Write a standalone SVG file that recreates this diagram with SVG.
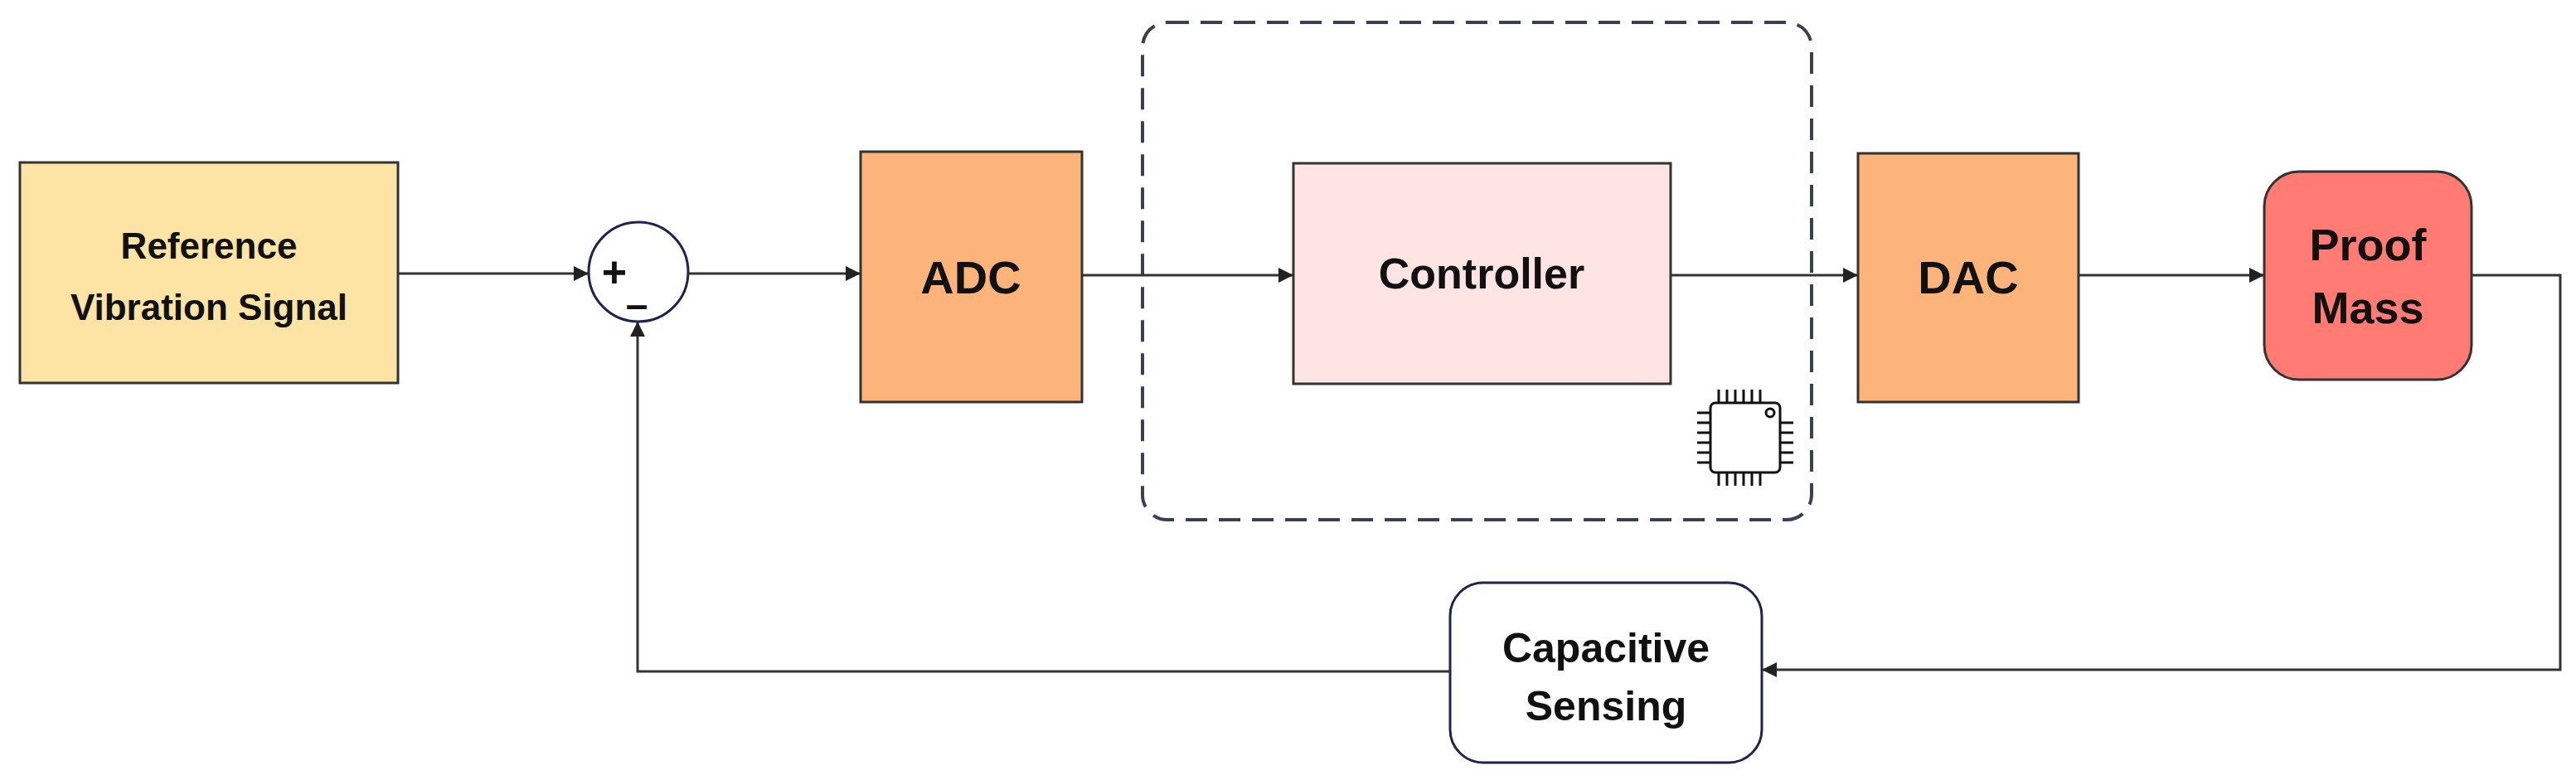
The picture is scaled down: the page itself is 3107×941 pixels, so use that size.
<svg xmlns="http://www.w3.org/2000/svg" width="3107" height="941" viewBox="0 0 3107 941">
<style>
.b{stroke:#333;stroke-width:3}
.t{font-family:"Liberation Sans",Arial,sans-serif;font-weight:bold;fill:#111;text-anchor:middle}
.c{fill:none;stroke:#333;stroke-width:3}
</style>
<defs><marker id="m" viewBox="0 0 10 10" markerWidth="18" markerHeight="18" refX="10" refY="5" orient="auto" markerUnits="userSpaceOnUse"><path d="M0,0 L10,5 L0,10 Z" fill="#222"/></marker></defs>
<rect x="1378" y="27" width="807" height="600" rx="30" fill="none" stroke="#3a3f55" stroke-width="4" stroke-dasharray="26,14"/>
<g id="ref"><rect class="b" x="24" y="196" width="456" height="266" fill="#FDE3A4"/><text class="t" x="252" y="312" font-size="44">Reference</text><text class="t" x="252" y="386" font-size="44">Vibration Signal</text></g>
<g id="sum"><circle cx="770" cy="328" r="60" fill="#fff" stroke="#1d2450" stroke-width="3"/><text class="t" x="741" y="346" font-size="52">+</text><text class="t" x="768" y="384" font-size="48">–</text></g>
<g id="adc"><rect class="b" x="1038" y="183" width="267" height="302" fill="#FDB47A"/><text class="t" x="1171" y="354" font-size="56">ADC</text></g>
<g id="ctrl"><rect class="b" x="1560" y="197" width="455" height="266" fill="#FFE4E4"/><text class="t" x="1787" y="348" font-size="52">Controller</text></g>
<g id="chip" fill="none" stroke="#111" stroke-width="3"><rect x="2063" y="486" width="84" height="84" rx="6"/><circle cx="2135" cy="498" r="5"/>
<path d="M2073,470v16M2083,470v16M2093,470v16M2103,470v16M2113,470v16M2123,470v16M2073,570v16M2083,570v16M2093,570v16M2103,570v16M2113,570v16M2123,570v16M2047,498h16M2047,510h16M2047,522h16M2047,534h16M2047,546h16M2047,558h16M2147,510h16M2147,522h16M2147,534h16M2147,546h16M2147,558h16"/></g>
<g id="dac"><rect class="b" x="2241" y="185" width="266" height="300" fill="#FDB47A"/><text class="t" x="2374" y="354" font-size="56">DAC</text></g>
<g id="pm"><rect class="b" x="2731" y="207" width="250" height="251" rx="42" fill="#FF7B73"/><text class="t" x="2856" y="314" font-size="54">Proof</text><text class="t" x="2856" y="390" font-size="54">Mass</text></g>
<g id="cap"><rect x="1749" y="703" width="376" height="217" rx="40" fill="#fff" stroke="#1d2450" stroke-width="3"/><text class="t" x="1937" y="799" font-size="50">Capacitive</text><text class="t" x="1937" y="869" font-size="50">Sensing</text></g>
<g id="connectors" class="c">
<path d="M480,330H710" marker-end="url(#m)"/>
<path d="M830,330H1038" marker-end="url(#m)"/>
<path d="M1305,332H1560" marker-end="url(#m)"/>
<path d="M2015,332H2241" marker-end="url(#m)"/>
<path d="M2507,332H2731" marker-end="url(#m)"/>
<path d="M2981,332H3088V808H2125" marker-end="url(#m)"/>
<path d="M1749,810H769V388" marker-end="url(#m)"/>
</g>
</svg>
